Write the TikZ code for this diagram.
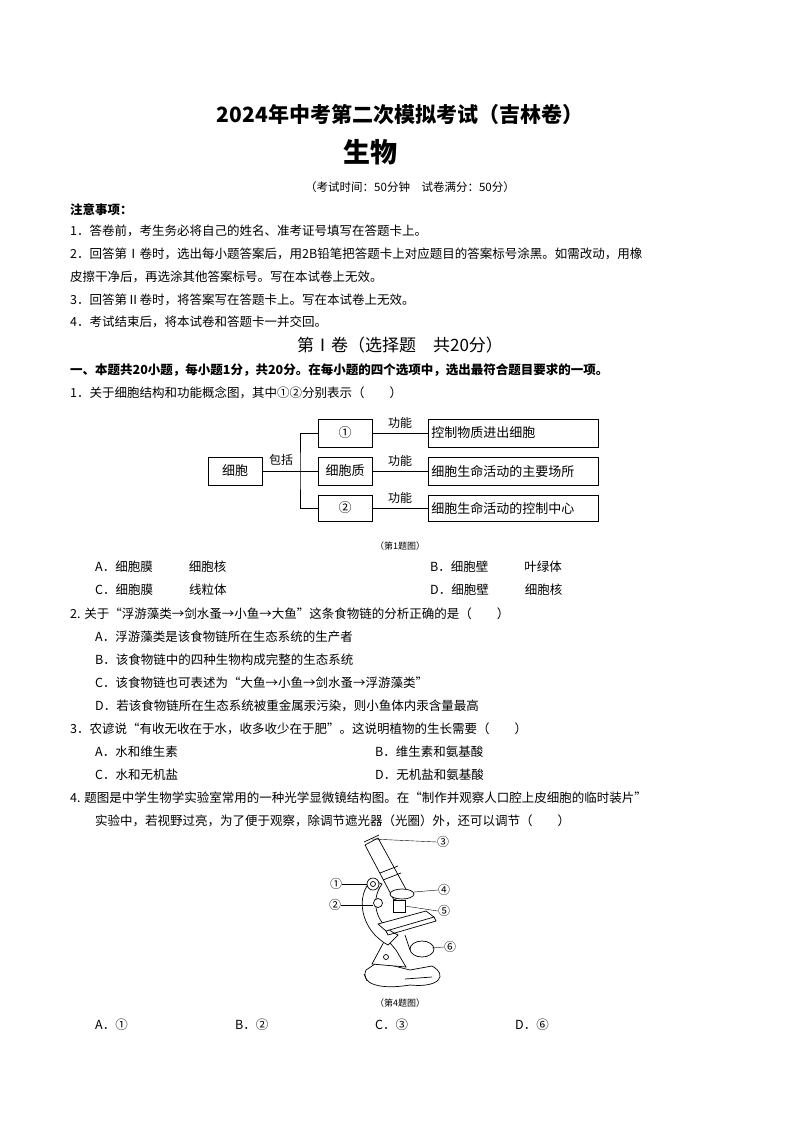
\documentclass[tikz,border=0pt]{standalone}
\usepackage{fontspec}
\setmainfont{Noto Sans CJK SC}
\usetikzlibrary{positioning, calc}
\tikzset{
  line/.style={anchor=west, inner sep=0pt, font=\fontsize{12.5}{14}\selectfont},
  mapbox/.style={draw, thick, minimum height=28pt, inner sep=2pt, font=\fontsize{13}{15}\selectfont},
  funbox/.style={mapbox, minimum width=170pt, anchor=west, text width=164pt, align=left},
  lbl/.style={inner sep=0pt, font=\fontsize{12}{14}\selectfont},
}
\begin{document}
\begin{tikzpicture}[x=1pt, y=-1pt]
\useasboundingbox (0,0) rectangle (800,1132);
\fill[white] (0,0) rectangle (800,1132);

% heading
\node[font=\fontsize{21}{24}\selectfont\bfseries] (title) at (400,115) {2024年中考第二次模拟考试（吉林卷）};
\node[font=\fontsize{27}{30}\selectfont\bfseries] (subj) at (370,152) {生物};
\node[font=\fontsize{11.5}{13}\selectfont] (time) at (410,187) {（考试时间：50分钟\quad 试卷满分：50分）};

\node[line, font=\fontsize{12.5}{14}\selectfont\bfseries] (note) at (70,210) {注意事项：};
\node[line] (n1) at (70,231) {1．答卷前，考生务必将自己的姓名、准考证号填写在答题卡上。};
\node[line] (n2) at (70,254) {2．回答第Ⅰ卷时，选出每小题答案后，用2B铅笔把答题卡上对应题目的答案标号涂黑。如需改动，用橡};
\node[line] (n2b) at (70,277) {皮擦干净后，再选涂其他答案标号。写在本试卷上无效。};
\node[line] (n3) at (70,300) {3．回答第Ⅱ卷时，将答案写在答题卡上。写在本试卷上无效。};
\node[line] (n4) at (70,322) {4．考试结束后，将本试卷和答题卡一并交回。};

\node[font=\fontsize{17}{20}\selectfont] (part) at (400,345) {第Ⅰ卷（选择题\quad 共20分）};
\node[line, font=\fontsize{12.5}{14}\selectfont\bfseries] (sec) at (70,370) {一、本题共20小题，每小题1分，共20分。在每小题的四个选项中，选出最符合题目要求的一项。};

% question 1
\node[line] (q1) at (70,393) {1．关于细胞结构和功能概念图，其中①②分别表示（\qquad ）};
\node[mapbox, minimum width=54pt] (cell) at (235,471) {细胞};
\node[mapbox, minimum width=54pt] (p1) at (345,433) {①};
\node[mapbox, minimum width=54pt] (p2) at (345,471) {细胞质};
\node[mapbox, minimum width=54pt, minimum height=26pt] (p3) at (345,508) {②};
\node[funbox] (f1) at (428,433) {控制物质进出细胞};
\node[funbox] (f2) at (428,471) {细胞生命活动的主要场所};
\node[funbox, minimum height=26pt] (f3) at (428,508) {细胞生命活动的控制中心};
\coordinate (fork) at (300,471);
\draw[thick] (cell.east) -- (fork) (p1.west) -| (fork) |- (p3.west) (fork) -- (p2.west);
\draw[thick] (p1) -- (f1) (p2) -- (f2) (p3) -- (f3);
\node[lbl] (inc) at (281,460) {包括};
\node[lbl] (fn1) at (400,423) {功能};
\node[lbl] (fn2) at (400,461) {功能};
\node[lbl] (fn3) at (400,498) {功能};
\node[font=\fontsize{9}{11}\selectfont] (cap1) at (400,546) {（第1题图）};

\node[line] (q1a) at (95,567) {A．细胞膜\hspace{36pt}细胞核};
\node[line] (q1b) at (430,567) {B．细胞壁\hspace{36pt}叶绿体};
\node[line] (q1c) at (95,590) {C．细胞膜\hspace{36pt}线粒体};
\node[line] (q1d) at (430,590) {D．细胞壁\hspace{36pt}细胞核};

% question 2
\node[line] (q2) at (70,614) {2. 关于“浮游藻类→剑水蚤→小鱼→大鱼”这条食物链的分析正确的是（\qquad ）};
\node[line] (q2a) at (95,637) {A．浮游藻类是该食物链所在生态系统的生产者};
\node[line] (q2b) at (95,660) {B．该食物链中的四种生物构成完整的生态系统};
\node[line] (q2c) at (95,683) {C．该食物链也可表述为“大鱼→小鱼→剑水蚤→浮游藻类”};
\node[line] (q2d) at (95,706) {D．若该食物链所在生态系统被重金属汞污染，则小鱼体内汞含量最高};

% question 3
\node[line] (q3) at (70,729) {3．农谚说“有收无收在于水，收多收少在于肥”。这说明植物的生长需要（\qquad ）};
\node[line] (q3a) at (95,752) {A．水和维生素};
\node[line] (q3b) at (375,752) {B．维生素和氨基酸};
\node[line] (q3c) at (95,775) {C．水和无机盐};
\node[line] (q3d) at (375,775) {D．无机盐和氨基酸};

% question 4
\node[line] (q4) at (70,798) {4. 题图是中学生物学实验室常用的一种光学显微镜结构图。在“制作并观察人口腔上皮细胞的临时装片”};
\node[line] (q4b) at (95,821) {实验中，若视野过亮，为了便于观察，除调节遮光器（光圈）外，还可以调节（\qquad ）};

% microscope
\begin{scope}[line width=0.7pt]
\filldraw[fill=white] (366,970) .. controls (360,984) and (380,990) .. (410,985) .. controls (440,988) and (448,975) .. (432,966) -- (410,970) -- (378,962) -- cycle;
\draw (364,974) -- (367,981) (405,979) -- (432,977);
\filldraw[fill=white] (372,964) -- (386,938) -- (396,950) -- (406,967) -- cycle;
\filldraw[fill=white] (388,945) .. controls (360,930) and (355,895) .. (372,880) -- (382,884) .. controls (370,900) and (375,925) .. (398,935) -- cycle;
\filldraw[fill=white] (365,845) -- (378,838) -- (408,893) -- (394,900) -- cycle;
\draw (364,842) -- (379,835) (380,873) -- (398,866) (383,880) -- (401,873);
\filldraw[fill=white] (402,894) ellipse (12 and 5);
\filldraw[fill=white] (393,900) rectangle (405,912);
\filldraw[fill=white] (378,924) -- (426,911) -- (434,917) -- (386,931) -- cycle;
\draw (386,931) -- (388,935) -- (436,921) -- (434,917);
\filldraw[fill=white] (373,884) circle (6);
\draw (373,884) circle (2.5);
\filldraw[fill=white] (378,903) circle (4.5);
\draw (386,957) circle (2.5);
\filldraw[fill=white] (422,949) ellipse (12 and 8);
\draw (405,935) -- (410,950);
\end{scope}
\node[lbl] (m1) at (336,884) {①};
\node[lbl] (m2) at (335,905) {②};
\node[lbl] (m3) at (443,842) {③};
\node[lbl] (m4) at (444,890) {④};
\node[lbl] (m5) at (444,911) {⑤};
\node[lbl] (m6) at (450,947) {⑥};
\draw (m1.east) -- (367,884);
\draw (m2.east) -- (373,905);
\draw (m3.west) -- (372,839);
\draw (m4.west) -- (414,892);
\draw (m5.west) -- (405,906);
\draw (m6.west) -- (432,948);
\node[font=\fontsize{9}{11}\selectfont] (cap4) at (400,1003) {（第4题图）};

\node[line] (q4aa) at (95,1025) {A．①};
\node[line] (q4bb) at (235,1025) {B．②};
\node[line] (q4cc) at (375,1025) {C．③};
\node[line] (q4dd) at (515,1025) {D．⑥};
\end{tikzpicture}
\end{document}
